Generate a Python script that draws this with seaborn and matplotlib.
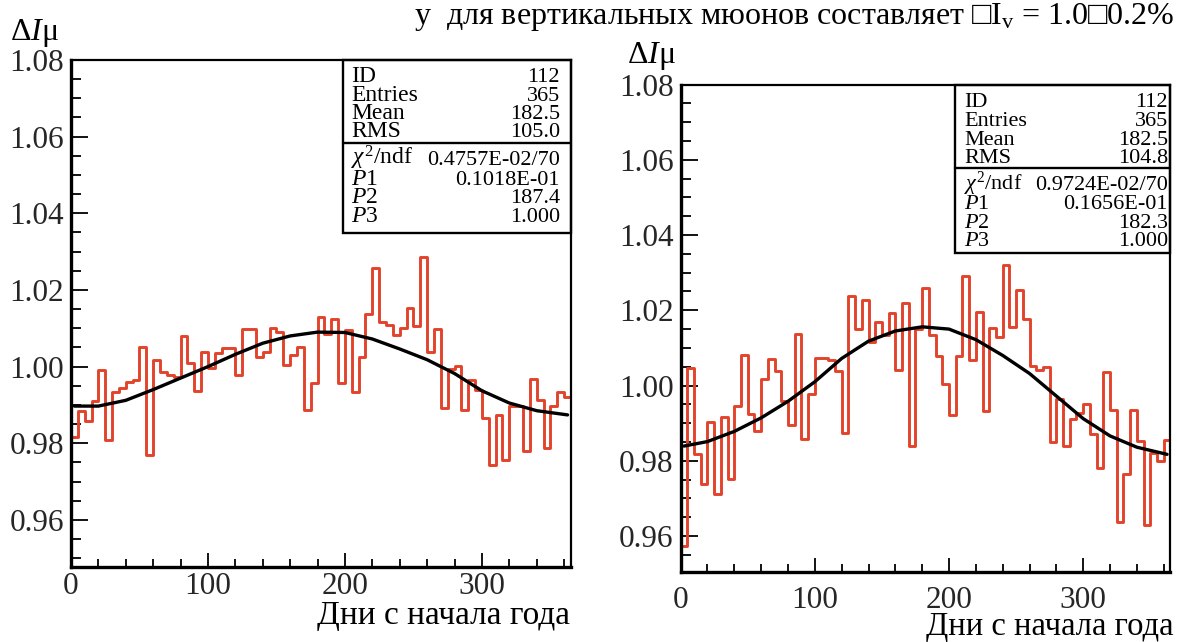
import numpy as np
import pandas as pd
import matplotlib
matplotlib.use("Agg")
import matplotlib.pyplot as plt
import seaborn as sns
from matplotlib.ticker import MultipleLocator, FixedLocator, FormatStrFormatter
from matplotlib.patches import Rectangle

# ---------------- data ----------------
bin_width = 5
bin_edges = [float(v) for v in range(0, 370, bin_width)]  # 73 bins of 5 days

left_values = [
    0.9817, 0.9883, 0.9857, 0.9910, 0.9991, 0.9809, 0.9935, 0.9943, 0.9961, 0.9965,
    1.0052, 0.9770, 1.0016, 0.9987, 0.9978, 0.9974, 1.0081, 1.0009, 0.9937, 1.0037,
    0.9996, 1.0035, 1.0048, 1.0048, 0.9978, 1.0098, 1.0098, 1.0026, 1.0039, 1.0102,
    1.0091, 1.0004, 1.0030, 1.0050, 0.9887, 0.9957, 1.0130, 1.0084, 1.0123, 0.9957,
    1.0096, 0.9935, 1.0026, 1.0137, 1.0257, 1.0117, 1.0109, 1.0083, 1.0100, 1.0152,
    1.0106, 1.0285, 1.0039, 1.0097, 0.9891, 0.9995, 1.0002, 0.9887, 0.9965, 0.9938,
    0.9865, 0.9744, 0.9873, 0.9757, 0.9896, 0.9896, 0.9780, 0.9967, 0.9913, 0.9787,
    0.9896, 0.9935, 0.9922,
]
right_values = [
    0.9573, 1.0047, 0.9817, 0.9737, 0.9904, 0.9712, 0.9916, 0.9752, 0.9945, 1.0080,
    0.9925, 0.9879, 1.0016, 1.0071, 1.0038, 0.9958, 0.9896, 1.0138, 0.9857, 0.9978,
    1.0073, 1.0073, 1.0067, 1.0038, 0.9874, 1.0237, 1.0150, 1.0228, 1.0115, 1.0168,
    1.0135, 1.0193, 1.0042, 1.0220, 0.9839, 1.0149, 1.0259, 1.0133, 1.0078, 1.0003,
    0.9921, 1.0078, 1.0290, 1.0067, 1.0195, 0.9932, 1.0153, 1.0129, 1.0321, 1.0156,
    1.0255, 1.0177, 1.0053, 1.0040, 1.0050, 0.9850, 0.9963, 0.9839, 0.9910, 0.9927,
    0.9950, 0.9870, 0.9782, 1.0035, 0.9936, 0.9636, 0.9764, 0.9934, 0.9852, 0.9628,
    0.9821, 0.9799, 0.9855,
]

fit_days = [2.5, 20, 40, 60, 80, 100, 120, 140, 160, 180, 200, 220, 240, 260, 280,
            300, 320, 340, 362.5]
fit_left = [0.9897, 0.9897, 0.9912, 0.9940, 0.9970, 1.0000, 1.0032, 1.0061, 1.0080,
            1.0090, 1.0089, 1.0072, 1.0046, 1.0018, 0.9982, 0.9937, 0.9905, 0.9885,
            0.9874]
fit_right = [0.9839, 0.9851, 0.9878, 0.9914, 0.9958, 1.0010, 1.0072, 1.0118, 1.0145,
             1.0156, 1.0150, 1.0122, 1.0080, 1.0032, 0.9972, 0.9912, 0.9866, 0.9836,
             0.9817]

stat_labels = ["ID", "Entries", "Mean", "RMS", r"$\chi^2$/ndf", r"$P$1", r"$P$2", r"$P$3"]
stat_left = ["112", "365", "182.5", "105.0", "0.4757E-02/70", "0.1018E-01", "187.4", "1.000"]
stat_right = ["112", "365", "182.5", "104.8", "0.9724E-02/70", "0.1656E-01", "182.3", "1.000"]

x_ticks = [0, 100, 200, 300]
y_ticks = [0.96, 0.98, 1.00, 1.02, 1.04, 1.06, 1.08]
x_label = "Дни с начала года"
y_label = r"$\Delta I$μ"
top_text = "у  для вертикальных мюонов составляет □I$_{\\rm v}$ = 1.0□0.2%"

# ---------------- style ----------------
sns.set_style("ticks")
plt.rcParams["font.family"] = ["Liberation Serif", "DejaVu Serif"]
plt.rcParams["mathtext.fontset"] = "custom"
plt.rcParams["mathtext.rm"] = "Liberation Serif"
plt.rcParams["mathtext.it"] = "Liberation Serif:italic"
plt.rcParams["mathtext.bf"] = "Liberation Serif:bold"
plt.rcParams["text.color"] = "black"

RED = "#e2432b"

fig = plt.figure(figsize=(11.77, 6.42), dpi=100)
ax_l = fig.add_axes([0.0603, 0.1173, 0.4248, 0.7893])
ax_r = fig.add_axes([0.5783, 0.1095, 0.4161, 0.7587])


def draw_panel(ax, values, fit_vals, stats, ylim, tick_pad_x, box):
    centers = [e + bin_width / 2 for e in bin_edges[:-1]]
    df = pd.DataFrame({"day": centers, "rate": values})
    sns.histplot(data=df, x="day", weights="rate", bins=bin_edges, element="step",
                 fill=True, alpha=0, color=RED, linewidth=2.1, ax=ax)
    fdf = pd.DataFrame({"day": fit_days, "fit": fit_vals})
    sns.lineplot(data=fdf, x="day", y="fit", color="black", linewidth=2.4, ax=ax)

    ax.set_xlim(0, 365)
    ax.set_ylim(*ylim)
    ax.set_xlabel("")
    ax.set_ylabel("")
    ax.xaxis.set_major_locator(FixedLocator(x_ticks))
    ax.xaxis.set_minor_locator(MultipleLocator(20))
    ax.yaxis.set_major_locator(FixedLocator(y_ticks))
    ax.yaxis.set_minor_locator(MultipleLocator(0.005))
    ax.yaxis.set_major_formatter(FormatStrFormatter("%.2f"))
    ax.tick_params(axis="both", which="both", direction="in", top=False, right=False,
                   labelsize=22.5, width=1.3, color="black")
    ax.tick_params(axis="x", which="major", length=10, pad=tick_pad_x)
    ax.tick_params(axis="x", which="minor", length=6)
    ax.tick_params(axis="y", which="major", length=12, pad=5)
    ax.tick_params(axis="y", which="minor", length=7)
    for name, s in ax.spines.items():
        s.set_linewidth(2.4 if name in ("left", "bottom") else 1.6)
        s.set_color("black")
        s.set_zorder(10)
    ax.set_facecolor("white")

    # statistics box
    x0, y_bot, y_sep, rows, lab_x, val_x, fs_lab, fs_val = box
    ax.add_patch(Rectangle((x0, y_bot), 1 - x0, 1 - y_bot, transform=ax.transAxes,
                           fill=False, lw=1.7, ec="black", zorder=11, clip_on=False))
    ax.plot([x0, 1], [y_sep, y_sep], transform=ax.transAxes, color="black", lw=1.7,
            zorder=11)
    for lab, val, y in zip(stat_labels, stats, rows):
        ax.text(lab_x, y, lab, transform=ax.transAxes, ha="left", va="baseline",
                fontsize=fs_lab, zorder=12)
        ax.text(val_x, y, val, transform=ax.transAxes, ha="right", va="baseline",
                fontsize=fs_val, zorder=12)


draw_panel(ax_l, left_values, fit_left, stat_left, (0.9478, 1.08), 4,
           (0.544, 0.6586, 0.836,
            [0.957, 0.919, 0.883, 0.847, 0.793, 0.754, 0.718, 0.681],
            0.560, 0.978, 17, 16))
draw_panel(ax_r, right_values, fit_right, stat_right, (0.9505, 1.08), 10,
           (0.560, 0.654, 0.829,
            [0.954, 0.915, 0.877, 0.840, 0.784, 0.744, 0.706, 0.668],
            0.579, 0.995, 16, 16))

# axis titles
fig.text(10 / 1177, 1 - 40 / 642, y_label, fontsize=23, ha="left", va="baseline")
fig.text(627 / 1177, 1 - 63 / 642, y_label, fontsize=23, ha="left", va="baseline")
fig.text(570 / 1177, 1 - 624 / 642, x_label, fontsize=24, ha="right", va="baseline")
fig.text(1173 / 1177, 1 - 635 / 642, x_label, fontsize=23.5, ha="right", va="baseline")

# line of the surrounding page text
fig.text(1174 / 1177, 1 - 24 / 642, top_text, fontsize=23, ha="right", va="baseline")

fig.savefig("out.png", dpi=100, facecolor="white")
